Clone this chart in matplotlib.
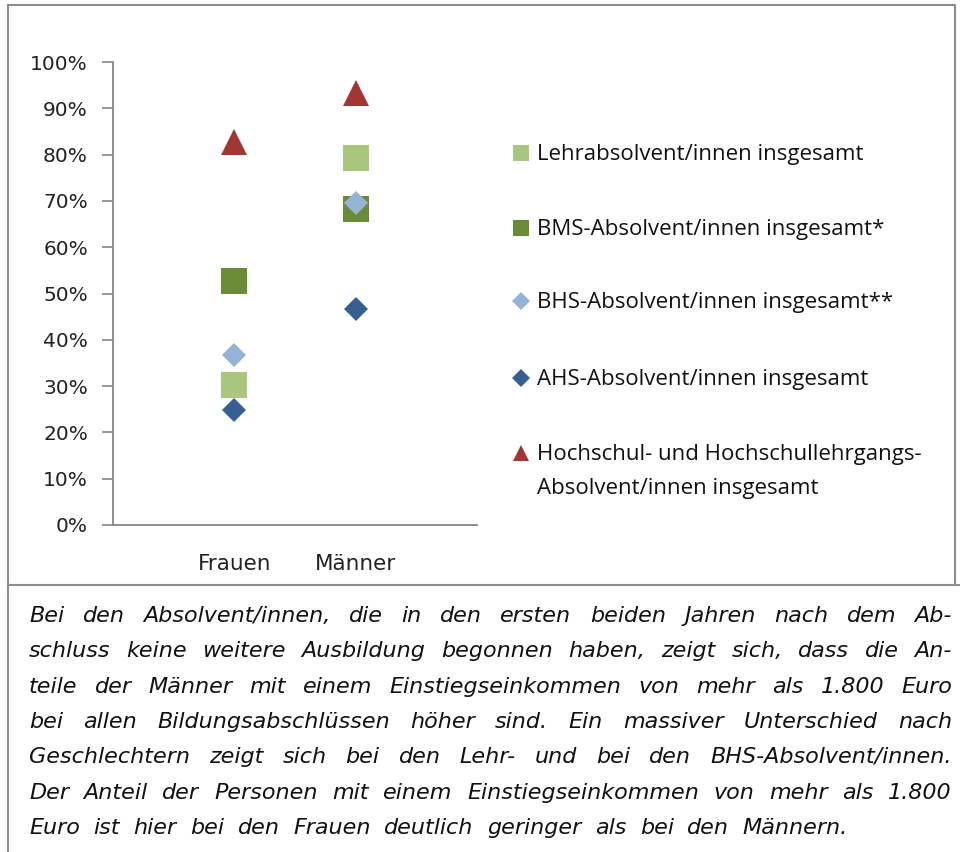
import numpy as np
import matplotlib
matplotlib.use("Agg")
import matplotlib.pyplot as plt
from matplotlib.lines import Line2D
from matplotlib.ticker import PercentFormatter

# Daten (Anteil mit Einstiegseinkommen > 1.800 Euro)
gruppen = ["Frauen", "Männer"]
serien = ["Lehrabsolvent/innen insgesamt",
          "BMS-Absolvent/innen insgesamt*",
          "BHS-Absolvent/innen insgesamt**",
          "AHS-Absolvent/innen insgesamt",
          "Hochschul- und Hochschullehrgangs-\nAbsolvent/innen insgesamt"]
lehr = [30.3, 79.2]
bms = [52.6, 68.2]
bhs = [36.7, 69.6]
ahs = [24.9, 46.6]
hochschul = [82.8, 93.4]
werte = [lehr, bms, bhs, ahs, hochschul]

farben = ['#a9c77c', '#6c8b37', '#95b3d7', '#366092', '#a23632']
marker = ['s', 's', 'D', 'D', '^']
msize = [19, 19, 12.5, 12.5, 18.5]

absatz = ["Bei den Absolvent/innen, die in den ersten beiden Jahren nach dem Ab-",
          "schluss keine weitere Ausbildung begonnen haben, zeigt sich, dass die An-",
          "teile der Männer mit einem Einstiegseinkommen von mehr als 1.800 Euro",
          "bei allen Bildungsabschlüssen höher sind. Ein massiver Unterschied nach",
          "Geschlechtern zeigt sich bei den Lehr- und bei den BHS-Absolvent/innen.",
          "Der Anteil der Personen mit einem Einstiegseinkommen von mehr als 1.800",
          "Euro ist hier bei den Frauen deutlich geringer als bei den Männern."]

W, H = 960, 852
def fx(x):
    return x / W
def fy(y):
    return 1 - y / H

fig = plt.figure(figsize=(9.6, 8.52), dpi=100)
fig.patch.set_facecolor('white')

# Rahmen
grau = '#8c8c8c'
fig.add_artist(Line2D([fx(8), fx(955), fx(955)], [fy(5), fy(5), fy(585)], color=grau, lw=1.5))
fig.add_artist(Line2D([fx(8), fx(8)], [fy(5), fy(852)], color=grau, lw=1.5))
fig.add_artist(Line2D([fx(8), fx(960)], [fy(585), fy(585)], color=grau, lw=1.5))

ax = fig.add_axes([fx(113), fy(525), fx(477) - fx(113), fy(62) - fy(525)])
x = np.arange(1, len(gruppen) + 1)
for i in range(len(serien)):
    ax.plot(x, werte[i], linestyle='none', marker=marker[i], markersize=msize[i],
            color=farben[i], markeredgewidth=0, label=serien[i])

ax.set_xlim(0, 3)
ax.set_ylim(0, 100)
ax.set_yticks(np.arange(0, 101, 10))
ax.yaxis.set_major_formatter(PercentFormatter(decimals=0))
ax.set_xticks(x)
ax.set_xticklabels(gruppen)
ax.tick_params(axis='y', length=8, width=1.2, color='#868686', pad=10, labelsize=14.5, labelcolor='#222222')
ax.tick_params(axis='x', length=0, pad=21, labelsize=15.5, labelcolor='#222222')
for s in ['top', 'right']:
    ax.spines[s].set_visible(False)
for s in ['left', 'bottom']:
    ax.spines[s].set_color('#868686')
    ax.spines[s].set_linewidth(1.3)
ax.set_facecolor('none')

# Legende
leg_y = [153, 228, 301, 378, 453]
for i in range(len(serien)):
    ms = msize[i] * 0.62 if marker[i] != 'D' else msize[i] * 0.72
    fig.add_artist(Line2D([fx(521)], [fy(leg_y[i])], marker=marker[i], markersize=ms,
                          color=farben[i], markeredgewidth=0, linestyle='none'))
    for k, teil in enumerate(serien[i].split('\n')):
        fig.text(fx(537), fy(leg_y[i] + 7 + 34 * k), teil, fontsize=16, family='Open Sans',
                 color='#111111', va='baseline', ha='left')

# Absatz im Blocksatz (letzte Zeile endet etwa bei x=848)
fig.canvas.draw()
r = fig.canvas.get_renderer()
links, rechts = 29, 952
ende_letzte = 848
fp = dict(fontsize=16, style='italic', color='#111111')
basis = [622, 657, 693, 728, 763, 799, 834]
for j, zeile in enumerate(absatz):
    woerter = zeile.split(' ')
    ts = [fig.text(0, 0, w, **fp) for w in woerter]
    breiten = [t.get_window_extent(r).width for t in ts]
    ziel = rechts if j < len(absatz) - 1 else ende_letzte
    luecke = (ziel - links - sum(breiten)) / (len(woerter) - 1)
    pos = links
    for t, b in zip(ts, breiten):
        t.set_position((fx(pos), fy(basis[j])))
        t.set_va('baseline')
        pos += b + luecke

fig.savefig('out.png', dpi=100)
